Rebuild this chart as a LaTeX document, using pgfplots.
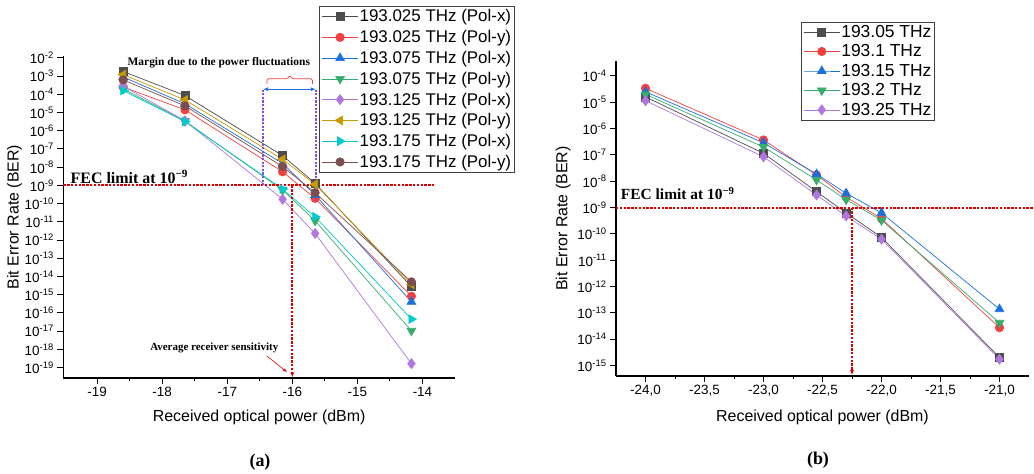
\documentclass[border=0pt]{standalone}
\usepackage{pgfplots}
\pgfplotsset{compat=1.18}
\usepackage{fontspec}
\setmainfont{Liberation Sans}
\newfontfamily\tms{Liberation Serif}
\usetikzlibrary{arrows.meta}
\definecolor{cK}{HTML}{4D4D4D}
\definecolor{cR}{HTML}{F24040}
\definecolor{cB}{HTML}{1A6FDF}
\definecolor{cG}{HTML}{37AD6B}
\definecolor{cP}{HTML}{B177DE}
\definecolor{cY}{HTML}{CC9900}
\definecolor{cC}{HTML}{00CBCC}
\definecolor{cN}{HTML}{7D4E4E}
\definecolor{fec}{HTML}{E00000}
\definecolor{pdot}{HTML}{8050E0}
\tikzset{
  fecline/.style={draw=fec, line width=2bp, dash pattern=on 2.4bp off 1.4bp},
  pline/.style={draw=pdot, line width=1.8bp, dash pattern=on 2.2bp off 1.4bp},
}
\pgfplotsset{
  /pgf/number format/assume math mode=true,
  legend image code/.code={\draw[mark repeat=2,mark phase=2,#1] plot coordinates {(0bp,0bp) (18bp,0bp) (36bp,0bp)};},
  sK/.style={color=cK, mark=square*, mark size=4bp, mark options={solid}},
  sR/.style={color=cR, mark=*, mark size=4.2bp, mark options={solid}},
  sB/.style={color=cB, mark=triangle*, mark size=5bp, mark options={solid}},
  sG/.style={color=cG, mark=triangle*, mark size=5bp, mark options={solid,rotate=180}},
  sP/.style={color=cP, mark=diamond*, mark size=5bp, mark options={solid}},
  sY/.style={color=cY, mark=triangle*, mark size=5bp, mark options={solid,rotate=90}},
  sC/.style={color=cC, mark=triangle*, mark size=5bp, mark options={solid,rotate=-90}},
  sN/.style={color=cN, mark=*, mark size=4.2bp, mark options={solid}},
}
\begin{document}
\begin{tikzpicture}
\path[use as bounding box] (0,0) rectangle (1034bp,474bp);
% ---------------- (a) ----------------
\begin{axis}[
  scale only axis, anchor=south west, ymode=log, log basis y=10,
  axis x line*=bottom, axis y line*=left,
  axis line style={line width=1.3bp,-},
  tick align=outside, major tick length=6bp, minor tick length=3bp,
  every tick/.style={line width=1bp,black},
  tick label style={font=\fontsize{13.5}{15}\selectfont},
  label style={font=\fontsize{16}{18}\selectfont},
  yticklabel={\pgfmathtruncatemacro\ex{round(\tick)}10\textsuperscript{\ex}},
  clip=false, legend cell align=left,
  every axis plot/.append style={line width=0.7bp},
  at={(63.3bp,96bp)}, width=391.7bp, height=322bp,
  xmin=-19.52, xmax=-13.5, ymin=2.7e-20, ymax=1.26e-2,
  xtick={-19,-18,-17,-16,-15,-14}, minor x tick num=1,
  xticklabel={\pgfmathprintnumber{\tick}},
  ytickten={-19,-18,...,-2},
  xlabel={Received optical power (dBm)},
  ylabel={Bit Error Rate (BER)},
  ylabel shift=-4bp, xlabel shift=6bp,
  legend style={at={(0.6536,1.155)}, anchor=north west, draw=black!75, line width=0.8bp,
    font=\fontsize{17}{19}\selectfont, row sep=4.6bp, inner sep=2bp, nodes={inner sep=1.2bp}},
]
\addplot[sK] coordinates {(-18.6,1.78e-3) (-17.65,8.5e-5) (-16.15,4.3e-8) (-15.65,1.3e-9) (-14.17,2.8e-15)};
\addlegendentry{193.025 THz (Pol-x)}
\addplot[sR] coordinates {(-18.6,2.5e-4) (-17.65,1.4e-5) (-16.15,5.6e-9) (-15.65,1.95e-10) (-14.17,8.3e-16)};
\addlegendentry{193.025 THz (Pol-y)}
\addplot[sB] coordinates {(-18.6,8.9e-4) (-17.65,3.0e-5) (-16.15,1.6e-8) (-15.65,3.0e-10) (-14.17,4.1e-16)};
\addlegendentry{193.075 THz (Pol-x)}
\addplot[sG] coordinates {(-18.6,2.0e-4) (-17.65,3.4e-6) (-16.15,5.6e-10) (-15.65,1.15e-11) (-14.17,1.05e-17)};
\addlegendentry{193.075 THz (Pol-y)}
\addplot[sP] coordinates {(-18.6,2.8e-4) (-17.65,3.5e-6) (-16.15,1.74e-10) (-15.65,2.3e-12) (-14.17,1.66e-19)};
\addlegendentry{193.125 THz (Pol-x)}
\addplot[sY] coordinates {(-18.6,1.2e-3) (-17.65,4.9e-5) (-16.15,2.7e-8) (-15.65,1.15e-9) (-14.17,3.8e-15)};
\addlegendentry{193.125 THz (Pol-y)}
\addplot[sC] coordinates {(-18.6,1.6e-4) (-17.65,3.2e-6) (-16.15,6.3e-10) (-15.65,1.9e-11) (-14.17,4.6e-17)};
\addlegendentry{193.175 THz (Pol-x)}
\addplot[sN] coordinates {(-18.6,6.2e-4) (-17.65,2.3e-5) (-16.15,1.07e-8) (-15.65,4.0e-10) (-14.17,5.1e-15)};
\addlegendentry{193.175 THz (Pol-y)}
% annotations
\draw[fecline] (axis cs:-19.52,1e-9) -- (axis cs:-13.8,1e-9);
\draw[fecline, -{Latex[length=5bp,width=4bp]}] (axis cs:-16,1e-9) -- (axis cs:-16,2.9e-20);
\draw[pline] (axis cs:-16.45,1e-9) -- (axis cs:-16.45,1.9e-4);
\draw[pline] (axis cs:-15.64,1e-9) -- (axis cs:-15.64,1.9e-4);
\draw[cB, line width=0.8bp, {Latex[length=5bp,width=4bp]}-{Latex[length=5bp,width=4bp]}] (axis cs:-16.45,1.9e-4) -- (axis cs:-15.64,1.9e-4);
\draw[cR, line width=0.7bp, rounded corners=1.5bp] (axis cs:-16.39,3.7e-4) -- (axis cs:-16.39,7.1e-4) -- (axis cs:-16.07,7.1e-4) -- (axis cs:-16.04,1.17e-3) -- (axis cs:-16.01,7.1e-4) -- (axis cs:-15.69,7.1e-4) -- (axis cs:-15.69,3.7e-4);
\node[font=\tms\bfseries\fontsize{11.5}{13}\selectfont] at (axis cs:-17.13,5.3e-3) {Margin due to the power fluctuations};
\node[anchor=west, inner sep=0pt, font=\tms\bfseries\fontsize{16}{18}\selectfont] at (axis cs:-19.41,2.9e-9) {FEC limit at 10\textsuperscript{−9}};
\node[font=\tms\bfseries\fontsize{11}{13}\selectfont] at (axis cs:-17.2,1.17e-18) {Average receiver sensitivity};
\draw[fec, line width=0.6bp, -{Latex[length=4bp,width=3bp]}] (axis cs:-16.39,4.3e-19) -- (axis cs:-16.08,5.7e-20);
\end{axis}
% ---------------- (b) ----------------
\begin{axis}[
  scale only axis, anchor=south west, ymode=log, log basis y=10,
  axis x line*=bottom, axis y line*=left,
  axis line style={line width=1.3bp,-},
  tick align=outside, major tick length=6bp, minor tick length=3bp,
  every tick/.style={line width=1bp,black},
  tick label style={font=\fontsize{13.5}{15}\selectfont},
  label style={font=\fontsize{16}{18}\selectfont},
  yticklabel={\pgfmathtruncatemacro\ex{round(\tick)}10\textsuperscript{\ex}},
  clip=false, legend cell align=left,
  every axis plot/.append style={line width=0.7bp},
  at={(616bp,98bp)}, width=413bp, height=315bp,
  xmin=-24.25, xmax=-20.75, ymin=4e-16, ymax=3.7e-4,
  xtick={-24,-23.5,-23,-22.5,-22,-21.5,-21}, minor x tick num=1,
  xticklabel={\pgfmathprintnumber[fixed,fixed zerofill,precision=1,use comma]{\tick}},
  ytickten={-15,-14,...,-4},
  xlabel={Received optical power (dBm)},
  ylabel={Bit Error Rate (BER)},
  ylabel shift=0bp, xlabel shift=6bp,
  legend style={at={(0.448,1.125)}, anchor=north west, draw=black!75, line width=0.8bp,
    font=\fontsize{17.5}{19}\selectfont, row sep=3.4bp, inner sep=2bp, nodes={inner sep=1.2bp}},
]
\addplot[sK] coordinates {(-24,1.6e-5) (-23,1.15e-7) (-22.55,4.0e-9) (-22.3,6.3e-10) (-22,7.4e-11) (-21,2.0e-15)};
\addlegendentry{193.05 THz}
\addplot[sR] coordinates {(-24,3.4e-5) (-23,3.7e-7) (-22.55,1.74e-8) (-22.3,2.5e-9) (-22,3.8e-10) (-21,2.75e-14)};
\addlegendentry{193.1 THz}
\addplot[sB] coordinates {(-24,2.5e-5) (-23,2.9e-7) (-22.55,1.86e-8) (-22.3,3.5e-9) (-22,6.3e-10) (-21,1.38e-13)};
\addlegendentry{193.15 THz}
\addplot[sG] coordinates {(-24,2.0e-5) (-23,2.0e-7) (-22.55,1.12e-8) (-22.3,2.0e-9) (-22,3.3e-10) (-21,4.2e-14)};
\addlegendentry{193.2 THz}
\addplot[sP] coordinates {(-24,1.15e-5) (-23,8.5e-8) (-22.55,3.0e-9) (-22.3,4.8e-10) (-22,6.3e-11) (-21,1.74e-15)};
\addlegendentry{193.25 THz}
\draw[fecline] (axis cs:-24.25,1e-9) -- (axis cs:-20.71,1e-9);
\draw[fecline, -{Latex[length=5bp,width=4bp]}] (axis cs:-22.25,1e-9) -- (axis cs:-22.25,4.3e-16);
\node[anchor=west, inner sep=0pt, font=\tms\bfseries\fontsize{15.5}{18}\selectfont] at (axis cs:-24.21,3.5e-9) {FEC limit at 10\textsuperscript{−9}};
\end{axis}
\node[font=\tms\bfseries\fontsize{18}{20}\selectfont] at (260bp,12bp) {(a)};
\node[font=\tms\bfseries\fontsize{18}{20}\selectfont] at (818bp,14bp) {(b)};
\end{tikzpicture}
\end{document}
